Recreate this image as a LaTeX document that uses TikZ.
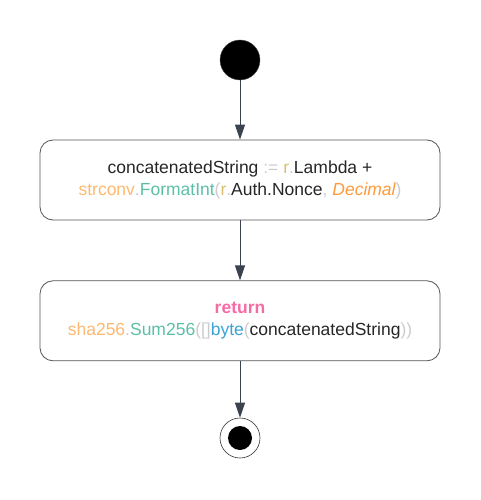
\documentclass[tikz,border=0pt]{standalone}
\usepackage{fontspec}
\setmainfont{Liberation Sans}
\usetikzlibrary{positioning,arrows.meta}
\definecolor{edgegray}{HTML}{3B4250}
\definecolor{boxline}{HTML}{555555}
\definecolor{opgray}{HTML}{CCCCCC}
\definecolor{varyellow}{HTML}{D9C06A}
\definecolor{pkgorange}{HTML}{FFB870}
\definecolor{fnteal}{HTML}{5BBFA6}
\definecolor{constorange}{HTML}{FF9A3C}
\definecolor{kwpink}{HTML}{F76BA5}
\definecolor{typeblue}{HTML}{3AA3D3}
\begin{document}
\begin{tikzpicture}[
        x=1pt, y=-1pt,
        every node/.style={font=\fontsize{17.5}{22.5}\selectfont, text=black!85},
        action/.style={draw=boxline, line width=0.8pt, rounded corners=13pt,
            minimum width=400pt, minimum height=80pt, align=center, inner sep=0pt},
        flow/.style={draw=edgegray, line width=0.9pt, -{Triangle[length=15pt,width=10pt]}}
    ]
        \useasboundingbox (0,0) rectangle (480,500);
        \node[circle, fill=black, draw=black!70, minimum size=40pt, inner sep=0pt] (start) at (240,60) {};
        \node[action] (concat) at (240,180) {%
            concatenatedString \textcolor{opgray}{:=} \textcolor{varyellow}{r}\textcolor{opgray}{.}Lambda +\\
            \textcolor{pkgorange}{strconv}\textcolor{opgray}{.}\textcolor{fnteal}{FormatInt}\textcolor{opgray}{(}\textcolor{varyellow}{r}\textcolor{opgray}{.}Auth.Nonce\textcolor{opgray}{,} \textcolor{constorange}{\itshape Decimal}\textcolor{opgray}{)}};
        \node[action, below=60pt of concat] (hash) {%
            \textcolor{kwpink}{\bfseries return}\\
            \textcolor{pkgorange}{sha256}\textcolor{opgray}{.}\textcolor{fnteal}{Sum256}\textcolor{opgray}{([]}\textcolor{typeblue}{byte}\textcolor{opgray}{(}concatenatedString\textcolor{opgray}{))}};
        \node[circle, draw=black!80, line width=0.6pt, minimum size=40pt, inner sep=0pt] (stop) at (240,438) {};
        \node[circle, fill=black, minimum size=24pt, inner sep=0pt] (stopdot) at (stop) {};
        % flow edges
        \draw[flow] (start) -- (concat);
        \draw[flow] (concat) -- (hash);
        \draw[flow] (hash) -- (stop);
    \end{tikzpicture}
\end{document}
